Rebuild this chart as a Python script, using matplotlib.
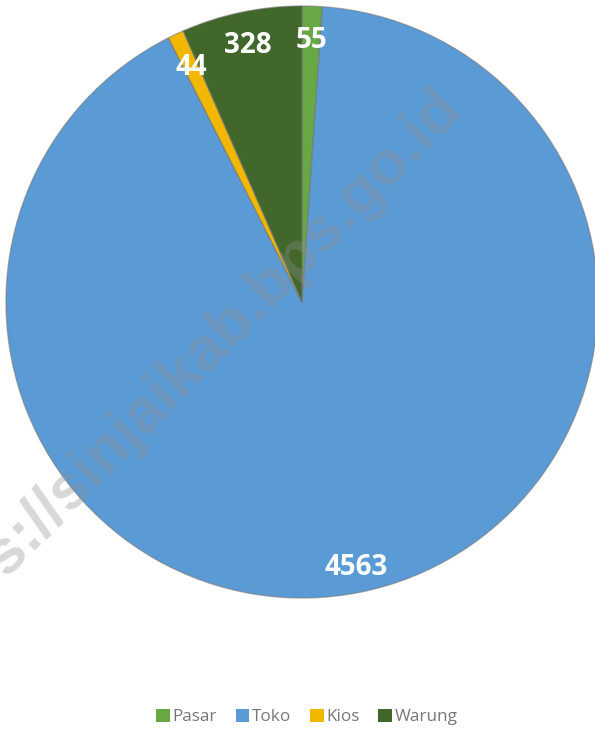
import matplotlib
matplotlib.use("Agg")
import numpy as np
import matplotlib.pyplot as plt
from matplotlib.patches import Patch

categories = ["Pasar", "Toko", "Kios", "Warung"]
values = [55, 4563, 44, 328]
colors = ["#67A845", "#5B9BD5", "#F2B700", "#41672B"]
label_dist = [0.885, 0.915, 0.875, 0.885]

W, H = 595, 729
fig = plt.figure(figsize=(W / 100, H / 100), dpi=100)
cx, cy, r = 302, 302, 296
ax = fig.add_axes([(cx - r) / W, (H - cy - r) / H, 2 * r / W, 2 * r / H])

wedges, texts = ax.pie(
    values, colors=colors, startangle=90, counterclock=False, radius=1.0,
    wedgeprops=dict(edgecolor=(0.45, 0.45, 0.45, 0.55), linewidth=1.0),
)
for w, v, d in zip(wedges, values, label_dist):
    ang = np.deg2rad((w.theta1 + w.theta2) / 2)
    ax.text(d * np.cos(ang), d * np.sin(ang), str(v), ha="center", va="center",
            color="white", fontsize=20, fontweight="bold",
            family=["Open Sans", "DejaVu Sans"])
ax.set_xlim(-1, 1)
ax.set_ylim(-1, 1)
ax.set_aspect("equal")
ax.axis("off")

fig.text(464 / W, 1 - 110 / H, "https://sinjaikab.bps.go.id", rotation=45.5,
         rotation_mode="anchor", ha="right", va="baseline", fontsize=45,
         fontweight="bold", color=(142 / 255,) * 3, alpha=0.34,
         family=["Liberation Sans", "DejaVu Sans"], zorder=10)

handles = [Patch(facecolor=c, edgecolor="none") for c in colors]
fig.legend(handles, categories, loc="center", bbox_to_anchor=(0.516, 1 - 717 / H),
           ncol=4, frameon=False, handlelength=0.8, handleheight=0.8,
           handletextpad=0.15, columnspacing=1.1,
           prop=dict(family=["Open Sans", "DejaVu Sans"], size=12.3),
           labelcolor="#777777")

fig.savefig("out.png", dpi=100)
